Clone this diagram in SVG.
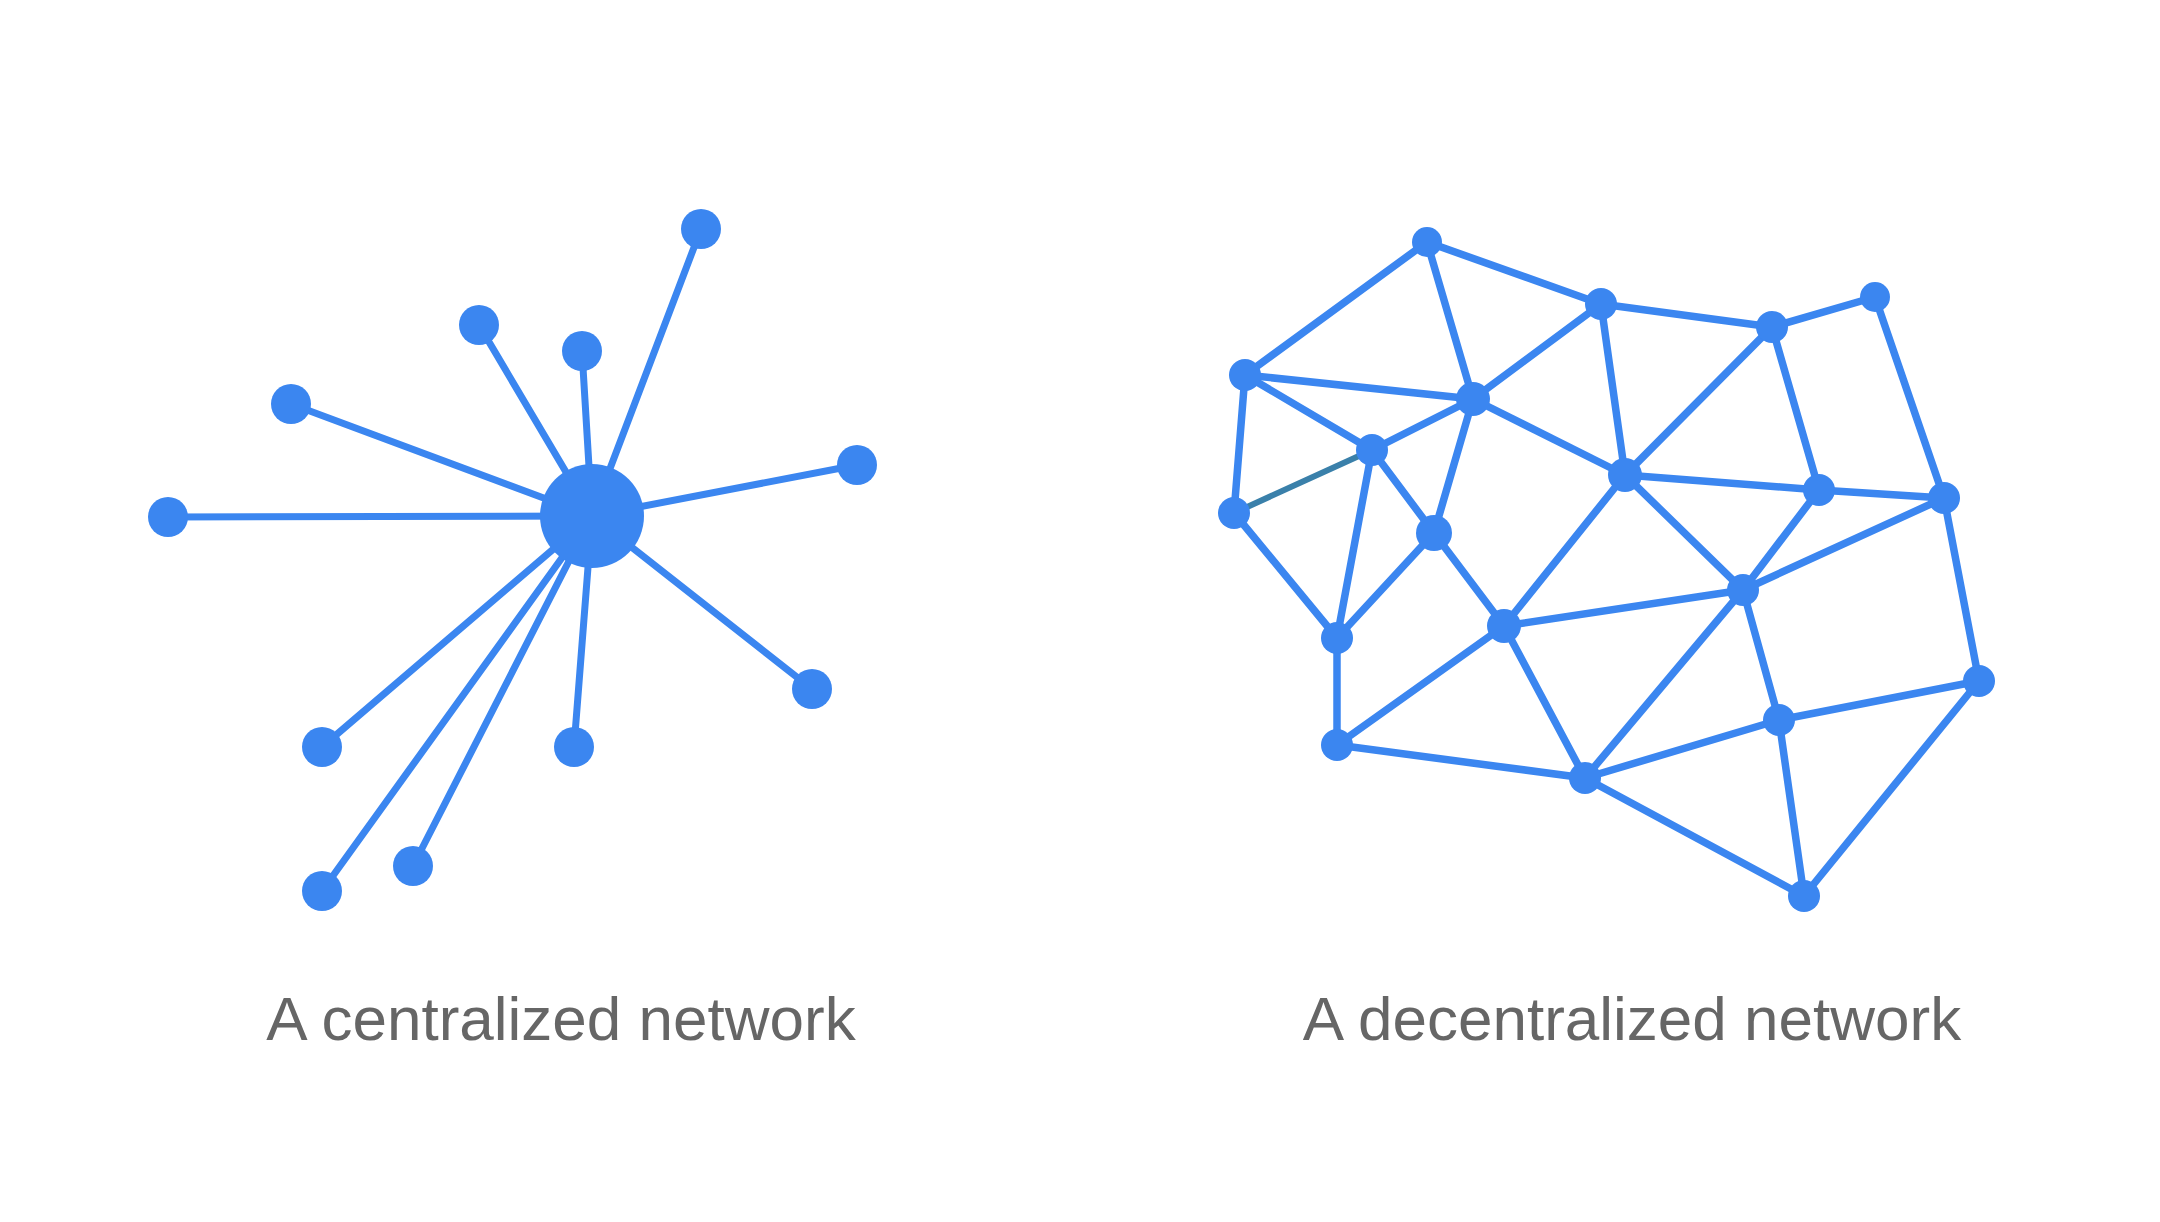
<svg xmlns="http://www.w3.org/2000/svg" width="2160" height="1222" viewBox="0 0 2160 1222">
<style>
.e{stroke:#3b86f0;stroke-width:7;stroke-linecap:round;fill:none}
.d{stroke:#3b86f0;stroke-width:7.5;stroke-linecap:round;fill:none}
.t{stroke:#3a80aa;stroke-width:6;stroke-linecap:round;fill:none}
.n{fill:#3b86f0}
.lbl{font-family:"Liberation Sans",Arial,sans-serif;font-size:62px;fill:#666666;text-anchor:middle}
</style>
<rect width="2160" height="1222" fill="#ffffff"/>
<g id="connectors">
<g id="central-edges" transform="translate(-1,-2)">
<line class="e" x1="593" y1="518" x2="169" y2="519"/>
<line class="e" x1="593" y1="518" x2="292" y2="406"/>
<line class="e" x1="593" y1="518" x2="480" y2="327"/>
<line class="e" x1="593" y1="518" x2="583" y2="353"/>
<line class="e" x1="593" y1="518" x2="702" y2="231"/>
<line class="e" x1="593" y1="518" x2="858" y2="467"/>
<line class="e" x1="593" y1="518" x2="813" y2="691"/>
<line class="e" x1="593" y1="518" x2="575" y2="749"/>
<line class="e" x1="593" y1="518" x2="323" y2="749"/>
<line class="e" x1="593" y1="518" x2="414" y2="868"/>
<line class="e" x1="593" y1="518" x2="323" y2="893"/>
</g>
<g id="decentral-edges" transform="translate(-7,-3)">
<line class="d" x1="1434" y1="245" x2="1252" y2="378"/>
<line class="d" x1="1434" y1="245" x2="1480" y2="402"/>
<line class="d" x1="1434" y1="245" x2="1608" y2="307"/>
<line class="d" x1="1608" y1="307" x2="1480" y2="402"/>
<line class="d" x1="1608" y1="307" x2="1632" y2="478"/>
<line class="d" x1="1608" y1="307" x2="1779" y2="330"/>
<line class="d" x1="1779" y1="330" x2="1882" y2="300"/>
<line class="d" x1="1779" y1="330" x2="1632" y2="478"/>
<line class="d" x1="1779" y1="330" x2="1826" y2="493"/>
<line class="d" x1="1882" y1="300" x2="1951" y2="501"/>
<line class="d" x1="1252" y1="378" x2="1480" y2="402"/>
<line class="d" x1="1252" y1="378" x2="1379" y2="453"/>
<line class="d" x1="1252" y1="378" x2="1241" y2="516"/>
<line class="d" x1="1480" y1="402" x2="1379" y2="453"/>
<line class="d" x1="1480" y1="402" x2="1441" y2="536"/>
<line class="d" x1="1480" y1="402" x2="1632" y2="478"/>
<line class="t" x1="1379" y1="453" x2="1241" y2="516"/>
<line class="d" x1="1379" y1="453" x2="1441" y2="536"/>
<line class="d" x1="1379" y1="453" x2="1344" y2="641"/>
<line class="d" x1="1241" y1="516" x2="1344" y2="641"/>
<line class="d" x1="1441" y1="536" x2="1344" y2="641"/>
<line class="d" x1="1441" y1="536" x2="1511" y2="629"/>
<line class="d" x1="1632" y1="478" x2="1826" y2="493"/>
<line class="d" x1="1632" y1="478" x2="1511" y2="629"/>
<line class="d" x1="1632" y1="478" x2="1750" y2="593"/>
<line class="d" x1="1826" y1="493" x2="1951" y2="501"/>
<line class="d" x1="1826" y1="493" x2="1750" y2="593"/>
<line class="d" x1="1951" y1="501" x2="1750" y2="593"/>
<line class="d" x1="1951" y1="501" x2="1986" y2="684"/>
<line class="d" x1="1511" y1="629" x2="1750" y2="593"/>
<line class="d" x1="1511" y1="629" x2="1344" y2="748"/>
<line class="d" x1="1511" y1="629" x2="1592" y2="781"/>
<line class="d" x1="1344" y1="641" x2="1344" y2="748"/>
<line class="d" x1="1344" y1="748" x2="1592" y2="781"/>
<line class="d" x1="1750" y1="593" x2="1592" y2="781"/>
<line class="d" x1="1750" y1="593" x2="1786" y2="723"/>
<line class="d" x1="1786" y1="723" x2="1986" y2="684"/>
<line class="d" x1="1786" y1="723" x2="1592" y2="781"/>
<line class="d" x1="1786" y1="723" x2="1811" y2="899"/>
<line class="d" x1="1592" y1="781" x2="1811" y2="899"/>
<line class="d" x1="1986" y1="684" x2="1811" y2="899"/>
</g>
</g>
<g id="central-nodes" transform="translate(-1,-2)">
<g id="hub"><circle class="n" cx="593" cy="518" r="52"/></g>
<g id="c1"><circle class="n" cx="169" cy="519" r="20"/></g>
<g id="c2"><circle class="n" cx="292" cy="406" r="20"/></g>
<g id="c3"><circle class="n" cx="480" cy="327" r="20"/></g>
<g id="c4"><circle class="n" cx="583" cy="353" r="20"/></g>
<g id="c5"><circle class="n" cx="702" cy="231" r="20"/></g>
<g id="c6"><circle class="n" cx="858" cy="467" r="20"/></g>
<g id="c7"><circle class="n" cx="813" cy="691" r="20"/></g>
<g id="c8"><circle class="n" cx="575" cy="749" r="20"/></g>
<g id="c9"><circle class="n" cx="323" cy="749" r="20"/></g>
<g id="c10"><circle class="n" cx="414" cy="868" r="20"/></g>
<g id="c11"><circle class="n" cx="323" cy="893" r="20"/></g>
</g>
<g id="decentral-nodes" transform="translate(-7,-3)">
<g id="dA"><circle class="n" cx="1434" cy="245" r="15"/></g>
<g id="dB"><circle class="n" cx="1608" cy="307" r="16"/></g>
<g id="dC"><circle class="n" cx="1779" cy="330" r="16"/></g>
<g id="dD"><circle class="n" cx="1882" cy="300" r="15"/></g>
<g id="dE"><circle class="n" cx="1252" cy="378" r="16"/></g>
<g id="dF"><circle class="n" cx="1480" cy="402" r="17"/></g>
<g id="dG"><circle class="n" cx="1379" cy="453" r="16"/></g>
<g id="dH"><circle class="n" cx="1241" cy="516" r="16"/></g>
<g id="dI"><circle class="n" cx="1632" cy="478" r="17"/></g>
<g id="dJ"><circle class="n" cx="1826" cy="493" r="16"/></g>
<g id="dK"><circle class="n" cx="1951" cy="501" r="16"/></g>
<g id="dL"><circle class="n" cx="1441" cy="536" r="18"/></g>
<g id="dM"><circle class="n" cx="1344" cy="641" r="16"/></g>
<g id="dN"><circle class="n" cx="1511" cy="629" r="17"/></g>
<g id="dO"><circle class="n" cx="1750" cy="593" r="16"/></g>
<g id="dP"><circle class="n" cx="1986" cy="684" r="16"/></g>
<g id="dQ"><circle class="n" cx="1344" cy="748" r="16"/></g>
<g id="dR"><circle class="n" cx="1786" cy="723" r="16"/></g>
<g id="dS"><circle class="n" cx="1592" cy="781" r="16"/></g>
<g id="dT"><circle class="n" cx="1811" cy="899" r="16"/></g>
</g>
<g id="labels">
<text class="lbl" x="561" y="1040">A centralized network</text>
<text class="lbl" x="1632" y="1040">A decentralized network</text>
</g>
</svg>
